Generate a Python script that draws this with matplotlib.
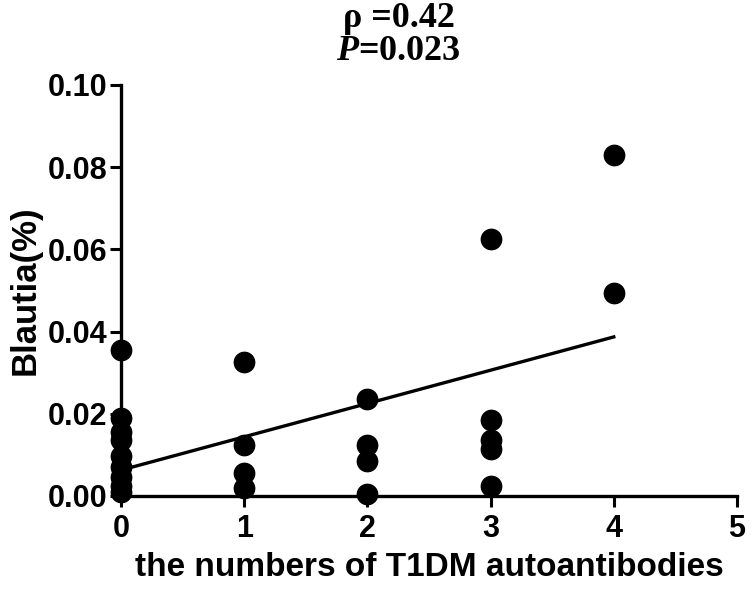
import matplotlib
matplotlib.use('Agg')
import matplotlib.pyplot as plt

# number of autoantibodies and Blautia abundance (%)
n_antibodies = [0, 0, 0, 0, 0, 0, 0, 0, 0,
                1, 1, 1, 1,
                2, 2, 2, 2,
                3, 3, 3, 3, 3,
                4, 4]
blautia = [0.0355, 0.019, 0.0155, 0.0135, 0.0097, 0.007, 0.0045, 0.0025, 0.001,
           0.0325, 0.0125, 0.0055, 0.002,
           0.0235, 0.0125, 0.0085, 0.0005,
           0.0625, 0.0185, 0.0135, 0.0115, 0.0025,
           0.083, 0.0495]

# regression line shown in the figure
fit_intercept = 0.0063
fit_slope = 0.0081
fit_range = [0, 4]

x_ticks = [0, 1, 2, 3, 4, 5]
y_ticks = [0.00, 0.02, 0.04, 0.06, 0.08, 0.10]

plt.rcParams['font.family'] = ['Liberation Sans', 'DejaVu Sans']
plt.rcParams['font.weight'] = 'bold'
plt.rcParams['mathtext.fontset'] = 'custom'
plt.rcParams['mathtext.bfit'] = 'Liberation Serif:italic:bold'

fig = plt.figure(figsize=(7.52, 5.94), dpi=100)
ax = fig.add_axes([0.161, 0.165, 0.819, 0.692])

ax.scatter(n_antibodies, blautia, s=215, color='black', zorder=3, clip_on=False)
line_y = [fit_intercept + fit_slope * v for v in fit_range]
ax.plot(fit_range, line_y, color='black', linewidth=2.4)

ax.set_xlim(0, 5)
ax.set_ylim(0, 0.10)
ax.set_xticks(x_ticks)
ax.set_yticks(y_ticks)
ax.set_yticklabels(['%.2f' % v for v in y_ticks])
ax.tick_params(width=2.2, length=8, labelsize=22)
ax.tick_params(axis='x', pad=5)
ax.tick_params(axis='y', pad=2)
for s in ['top', 'right']:
    ax.spines[s].set_visible(False)
for s in ['left', 'bottom']:
    ax.spines[s].set_linewidth(2.4)

ax.set_xlabel('the numbers of T1DM autoantibodies', fontsize=24, fontweight='bold', labelpad=6)
ax.set_ylabel('Blautia(%)', fontsize=25, fontweight='bold', labelpad=4)

fig.text(0.53, 0.955, '\u03c1 =0.42', ha='center', va='baseline', fontsize=26,
         family='Liberation Serif', fontweight='bold')
fig.text(0.53, 0.899, r'$\bfit{P}$=0.023', ha='center', va='baseline', fontsize=26,
         family='Liberation Serif', fontweight='bold')

fig.savefig('out.png', dpi=100)
